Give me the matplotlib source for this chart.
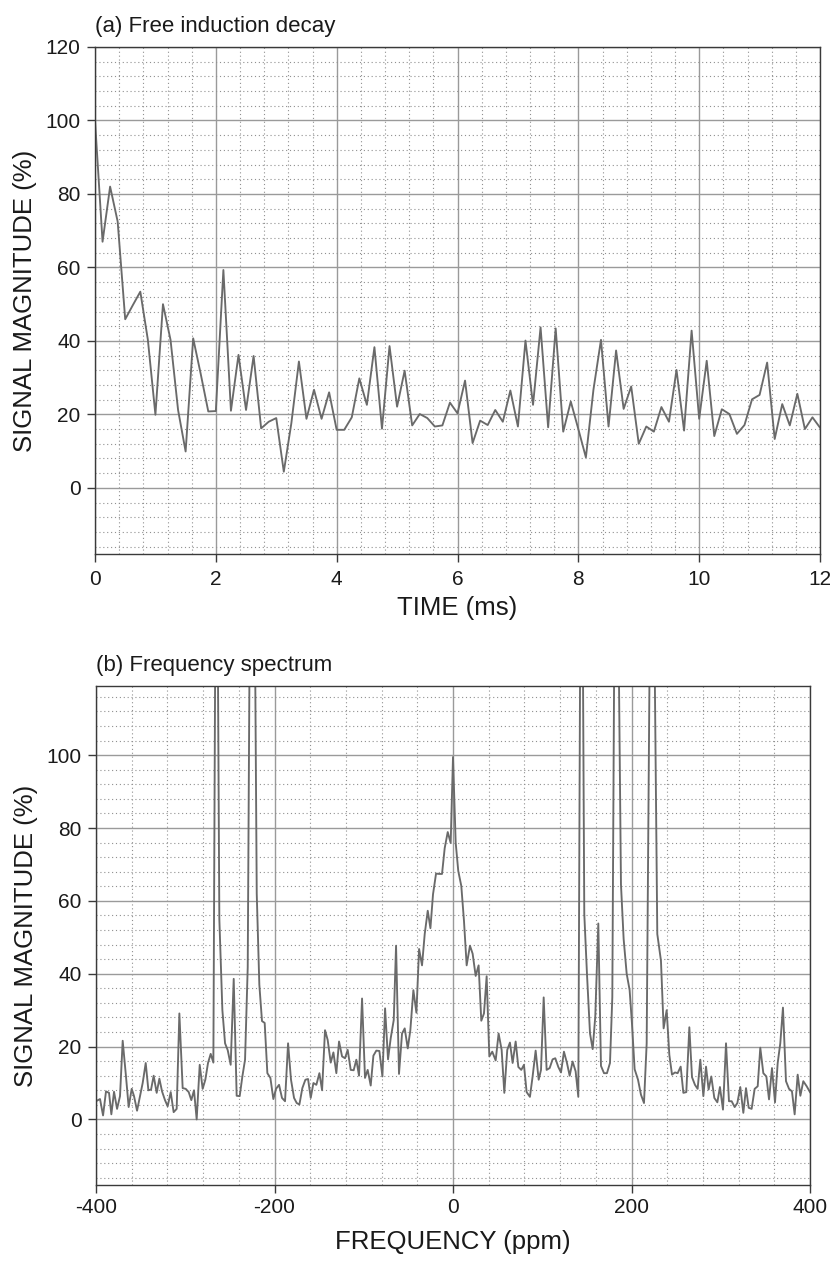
import numpy as np
import matplotlib
matplotlib.use("Agg")
import matplotlib.pyplot as plt
from matplotlib.ticker import MultipleLocator

plt.rcParams['font.family'] = ['Liberation Sans', 'DejaVu Sans']
plt.rcParams['axes.unicode_minus'] = False

# ---------------- data ----------------
# (a) free induction decay, sampled every 0.125 ms from 0 to 12 ms
fid_time_ms = np.linspace(0, 12, 97)
fid_signal = [
    100, 67, 82, 72.5, 45.9, 49.7, 53.4, 40.3, 19.9, 50,
    40.3, 21.2, 9.9, 40.7, 31, 20.8, 20.9, 59.3, 21, 36.2,
    21.2, 35.9, 16.2, 18.0, 19.0, 4.4, 17.6, 34.4, 18.8, 26.7,
    18.8, 26.0, 15.8, 15.8, 19.2, 29.8, 22.6, 38.3, 16.1, 38.6,
    22.1, 31.9, 17.0, 20.1, 19.0, 16.7, 17.0, 23.2, 20.3, 29.2,
    12.2, 18.3, 17.1, 21.2, 18.0, 26.5, 16.7, 40.1, 22.6, 43.7,
    16.5, 43.4, 15.3, 23.5, 16.0, 8.3, 26.7, 40.3, 16.7, 37.4,
    21.5, 27.6, 12.0, 16.7, 15.3, 22.0, 18.0, 32.1, 15.6, 42.8,
    18.8, 34.6, 14.1, 21.4, 20.1, 14.7, 17.1, 24.1, 25.3, 34.1,
    13.3, 22.8, 17.0, 25.6, 16.0, 19.2, 16.4,
]

# (b) frequency spectrum
spec_freq_ppm = [
    -400.0, -395.5, -392.1, -388.8, -385.4, -382.8, -379.8, -376.4, -373.1, -370.1,
    -366.4, -363.4, -360.0, -357.4, -354.0, -350.7, -347.7, -344.3, -341.3, -338.3,
    -335.4, -332.0, -329.0, -326.0, -322.7, -319.7, -316.3, -313.0, -309.6, -306.6,
    -302.9, -299.5, -296.1, -293.2, -290.2, -287.2, -283.8, -280.5, -277.5, -274.5,
    -271.5, -268.5, -265.1, -261.8, -258.4, -255.4, -252.4, -249.1, -245.7, -242.4,
    -239.0, -236.0, -233.0, -230.0, -226.7, -223.3, -219.9, -217.0, -214.0, -211.0,
    -208.0, -204.6, -201.3, -198.3, -194.9,
    -191.6, -188.2, -184.8, -181.5, -178.1, -175.1, -172.1, -168.8, -165.4, -162.4,
    -159.4, -156.4, -153.1, -149.7, -146.7, -143.4, -140.4, -137.0, -134.0, -130.7,
    -127.7, -124.3, -121.0, -118.0, -114.6, -111.3, -108.3, -105.3, -101.9, -98.6,
    -95.6, -92.2, -89.2, -85.9, -82.5, -79.1, -76.1, -72.8, -69.8, -66.4,
    -63.8, -60.5, -57.1, -54.1, -50.7, -47.8, -44.4, -41.0, -38.0, -34.7,
    -31.7, -28.3, -25.3, -22.4, -19.0, -15.6, -12.3, -9.3, -5.9, -2.6,
    0.0, 3.0, 5.9, 9.3, 12.3, 15.3, 19.0, 22.0, 25.4, 28.7,
    31.7, 34.7, 37.7, 40.7, 44.0, 47.8, 51.1, 54.5, 57.5, 60.8,
    63.8, 66.8, 70.2, 73.2, 76.5, 79.5, 82.5, 86.2, 89.2, 92.6,
    96.0, 98.6, 101.6, 104.9, 108.3, 111.6, 114.6, 118.0, 121.0, 124.3,
    127.7, 130.7, 134.0, 137.4, 140.4, 143.8, 147.1, 150.1, 153.5, 156.5,
    159.4, 162.8, 165.8, 169.2, 172.5, 175.9, 178.5, 181.5, 184.8, 188.2,
    191.2, 194.6, 197.9, 200.5, 203.5, 207.3, 210.6, 214.0, 217.0, 221.5,
    224.8, 228.9, 233.0, 236.0, 239.4, 242.4, 245.4, 248.7, 251.7, 255.1,
    258.1, 261.4, 264.8, 267.8, 271.1, 274.1, 277.1, 280.5, 283.5, 286.4,
    289.4, 292.8, 296.2, 299.1, 302.5, 305.9, 309.2, 312.2, 315.6, 318.6,
    321.9, 325.3, 328.3, 331.3, 334.6, 338.0, 341.4, 344.3, 347.7, 351.1,
    354.1, 357.4, 360.8, 363.8, 366.7, 369.7, 373.1, 376.5, 379.8, 382.8,
    386.2, 389.2, 392.5, 396.3, 400.0,
]
spec_magnitude = [
    5.0, 5.6, 1.1, 7.7, 7.3, 1.4, 7.6, 2.9, 6.4, 21.6,
    11.8, 3.4, 8.4, 6.4, 2.4, 6.4, 10.0, 15.5, 8.0, 8.2,
    12.0, 7.3, 11.2, 7.7, 5.3, 3.6, 7.5, 2.0, 2.9, 29.1,
    8.6, 8.4, 7.5, 5.3, 8.0, 0.0, 15.0, 8.4, 10.9, 15.5,
    18.0, 15.6, 200, 55, 30, 20.9, 19.0, 15.0, 38.6, 6.5,
    6.4, 11.8, 16.4, 41.8, 180, 184, 62, 37, 27, 26.5,
    12.7, 11.4, 5.6, 8.4, 9.5,
    5.9, 5.0, 20.9, 10.9, 5.9, 4.5, 4.1, 8.6, 10.9, 11.1,
    5.9, 10.0, 9.5, 12.7, 8.0, 24.5, 21.8, 15.6, 18.4, 12.7,
    21.4, 17.3, 16.8, 19.1, 13.6, 13.5, 16.4, 12.0, 33.2, 11.4,
    13.6, 9.3, 17.5, 18.9, 18.8, 11.8, 30.5, 16.5, 22.3, 27.3,
    47.7, 12.5, 23.6, 25.0, 19.5, 24.5, 35.5, 29.3, 46.8, 42.3,
    50.9, 57.3, 52.5, 61.8, 67.5, 67.4, 67.4, 74.5, 78.9, 75.9,
    99.5, 76.0, 68.2, 64.1, 54.5, 42.3, 47.7, 45.5, 39.4, 42.3,
    27.1, 29.1, 39.3, 17.3, 18.6, 16.2, 23.6, 19.1, 7.3, 19.1,
    21.1, 15.5, 21.4, 14.4, 13.6, 15.0, 7.5, 6.2, 11.8, 18.9,
    10.9, 13.6, 33.5, 13.6, 14.1, 16.5, 16.8, 14.4, 12.9, 18.6,
    15.5, 12.0, 15.9, 13.2, 6.2, 207, 56.4, 40.0, 23.6, 19.3,
    28.2, 53.8, 14.7, 12.7, 12.7, 15.5, 33.6, 165, 150, 64.5,
    49.5, 40.0, 35.5, 26.4, 13.8, 10.9, 6.8, 4.5, 20.9, 165,
    155, 50.9, 43.6, 25.0, 30.0, 17.7, 12.3, 12.9, 12.7, 14.5,
    7.3, 7.5, 25.3, 11.6, 9.5, 8.4, 16.4, 6.4, 14.5, 8.2,
    11.8, 5.9, 4.7, 8.9, 2.7, 20.9, 5.0, 5.0, 3.4, 4.5,
    8.9, 1.8, 8.6, 3.2, 2.9, 8.4, 9.1, 19.7, 12.7, 11.8,
    5.5, 14.1, 4.7, 15.5, 20.9, 30.7, 10.5, 8.4, 7.7, 1.4,
    12.3, 6.5, 10.5, 9.1, 7.5,
]

fid_xticks = [0, 2, 4, 6, 8, 10, 12]
spec_xticks = [-400, -200, 0, 200, 400]

# ---------------- figure ----------------
W, H = 830, 1263
fig = plt.figure(figsize=(W / 100, H / 100), dpi=100)

line_color = '#6a6a6a'
major_grid = '#9a9a9a'
minor_grid = '#909090'
spine_color = '#3a3a3a'
text_color = '#1a1a1a'
TICK_FS = 15
LABEL_FS = 18.5
TITLE_FS = 16


def px_axes(left, top, right, bottom):
    return fig.add_axes([left / W, 1 - bottom / H, (right - left) / W, (bottom - top) / H])


def style(ax):
    ax.set_axisbelow(True)
    ax.grid(True, which='major', color=major_grid, linewidth=1.0, linestyle='-')
    ax.grid(True, which='minor', color=minor_grid, linewidth=0.8, linestyle=(0, (1, 2.5)))
    for s in ax.spines.values():
        s.set_color(spine_color)
        s.set_linewidth(1.0)
    ax.tick_params(which='major', direction='out', length=5.5, width=1.0,
                   color=spine_color, labelsize=TICK_FS, pad=5, labelcolor=text_color)
    ax.tick_params(axis='x', which='major', pad=6)
    ax.tick_params(which='minor', length=0)


# (a)
ax1 = px_axes(95, 47, 820, 554)
ax1.plot(fid_time_ms, fid_signal, color=line_color, linewidth=1.35)
ax1.set_xlim(0, 12)
ax1.set_ylim(-18, 120)
ax1.set_xticks(fid_xticks)
ax1.xaxis.set_minor_locator(MultipleLocator(0.4))
ax1.set_yticks([0, 20, 40, 60, 80, 100, 120])
ax1.yaxis.set_minor_locator(MultipleLocator(4))
style(ax1)
ax1.set_xlabel('TIME (ms)', fontsize=LABEL_FS, color=text_color, labelpad=5)
ax1.set_ylabel('SIGNAL MAGNITUDE (%)', fontsize=LABEL_FS, color=text_color, labelpad=6)
ax1.set_title('(a) Free induction decay', loc='left', fontsize=TITLE_FS, color=text_color, pad=11)

# (b)
ax2 = px_axes(96, 686, 810, 1185)
ax2.plot(spec_freq_ppm, spec_magnitude, color=line_color, linewidth=1.35)
ax2.set_xlim(-400, 400)
ax2.set_ylim(-18, 119)
ax2.set_xticks(spec_xticks)
ax2.xaxis.set_minor_locator(MultipleLocator(40))
ax2.set_yticks([0, 20, 40, 60, 80, 100])
ax2.yaxis.set_minor_locator(MultipleLocator(4))
style(ax2)
ax2.tick_params(axis='x', which='major', pad=4)
ax2.set_xlabel('FREQUENCY (ppm)', fontsize=LABEL_FS, color=text_color, labelpad=9)
ax2.set_ylabel('SIGNAL MAGNITUDE (%)', fontsize=LABEL_FS, color=text_color, labelpad=6)
ax2.set_title('(b) Frequency spectrum', loc='left', fontsize=TITLE_FS, color=text_color, pad=11)

fig.savefig('out.png', dpi=100, facecolor='white')
